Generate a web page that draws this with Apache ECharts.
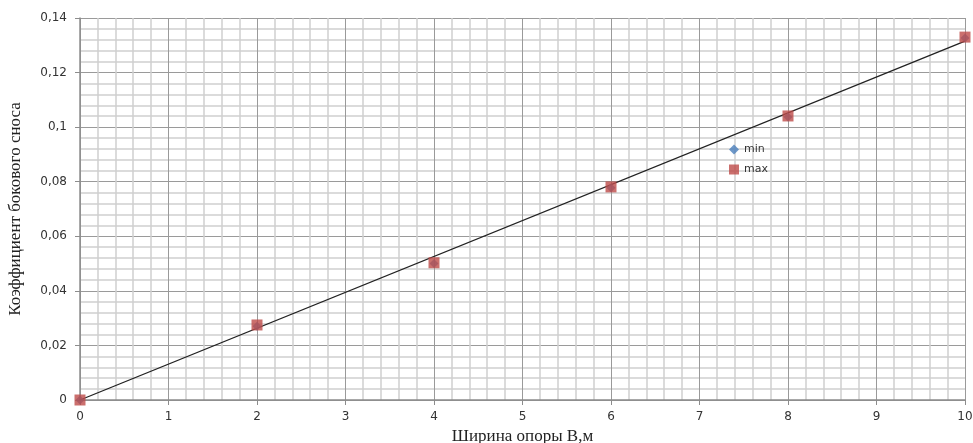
<!DOCTYPE html>
<html>
<head>
<meta charset="utf-8">
<script src="https://cdn.jsdelivr.net/npm/echarts@6/dist/echarts.min.js"></script>
<style>
  html, body { margin: 0; padding: 0; background: #fff; }
  #chart { width: 973px; height: 443px; }
</style>
</head>
<body>
<div id="chart"></div>
<script>
const widths = [0, 2, 4, 6, 8, 10];
const minValues = [0, 0.027, 0.050, 0.0778, 0.1037, 0.1327];
const maxValues = [0, 0.0275, 0.0503, 0.0781, 0.1041, 0.133];
const trendX = [0, 10];
const trendY = [0, 0.1315];

const chart = echarts.init(document.getElementById("chart"));

const comma = (v) => String(parseFloat(v.toFixed(3))).replace(".", ",");

chart.setOption({
  animation: false,
  grid: { left: 80, right: 8, top: 18, bottom: 43, outerBoundsMode: "none" },
  legend: {
    orient: "vertical",
    left: 724,
    top: 139,
    itemWidth: 10,
    itemHeight: 10,
    itemGap: 9,
    textStyle: { fontFamily: "DejaVu Sans", fontSize: 11, color: "#333" },
    data: [
      { name: "min", icon: "diamond" },
      { name: "max", icon: "rect" },
    ],
  },
  xAxis: {
    type: "value",
    min: 0,
    max: 10,
    interval: 1,
    name: "Ширина опоры B,м",
    nameLocation: "middle",
    nameGap: 27,
    nameTextStyle: { fontFamily: "Liberation Serif", fontSize: 17, color: "#222" },
    axisLine: { lineStyle: { color: "#8c8c8c", width: 1.5 } },
    axisTick: { show: true, length: 5, lineStyle: { color: "#8c8c8c" } },
    axisLabel: { fontFamily: "DejaVu Sans", fontSize: 12, color: "#333", margin: 11 },
    splitLine: { show: true, lineStyle: { color: "#9a9a9a", width: 1 } },
    minorTick: { show: false, splitNumber: 5 },
    minorSplitLine: { show: true, lineStyle: { color: "#cfcfcf", width: 1.5 } },
  },
  yAxis: {
    type: "value",
    min: 0,
    max: 0.14,
    interval: 0.02,
    name: "Коэффициент бокового сноса",
    nameLocation: "middle",
    nameRotate: 90,
    nameGap: 56,
    nameTextStyle: { fontFamily: "Liberation Serif", fontSize: 17, color: "#222" },
    axisLine: { show: true, lineStyle: { color: "#8c8c8c", width: 1.5 } },
    axisTick: { show: true, length: 5, lineStyle: { color: "#8c8c8c" } },
    axisLabel: {
      fontFamily: "DejaVu Sans",
      fontSize: 12,
      color: "#333",
      margin: 13,
      formatter: comma,
    },
    splitLine: { show: true, lineStyle: { color: "#9a9a9a", width: 1 } },
    minorTick: { show: false, splitNumber: 5 },
    minorSplitLine: { show: true, lineStyle: { color: "#cfcfcf", width: 1.5 } },
  },
  series: [
    {
      name: "trend",
      type: "line",
      data: trendX.map((x, i) => [x, trendY[i]]),
      showSymbol: false,
      lineStyle: { color: "#222", width: 1.3 },
      z: 3,
      silent: true,
    },
    {
      name: "min",
      type: "scatter",
      symbol: "diamond",
      symbolSize: 9,
      data: widths.map((x, i) => [x, minValues[i]]),
      itemStyle: { color: "#4a7ebb" },
      z: 4,
    },
    {
      name: "max",
      type: "scatter",
      symbol: "rect",
      symbolSize: 11,
      data: widths.map((x, i) => [x, maxValues[i]]),
      itemStyle: { color: "#be4b48" },
      z: 5,
    },
  ],
});
</script>
</body>
</html>
